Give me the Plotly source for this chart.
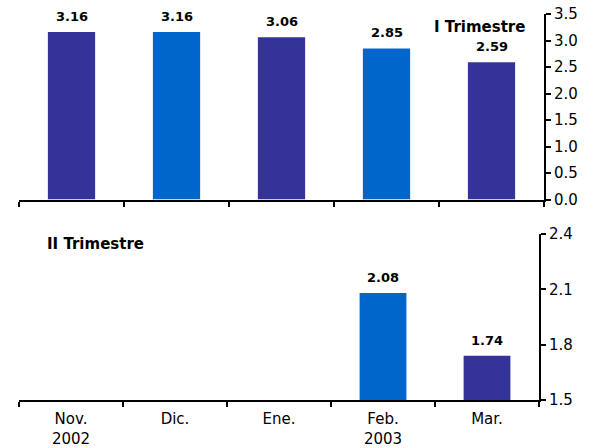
import plotly.graph_objects as go

months = ["Nov.<br>2002", "Dic.", "Ene.", "Feb.<br>2003", "Mar."]
q1_values = [3.16, 3.16, 3.06, 2.85, 2.59]
q2_values = [None, None, None, 2.08, 1.74]
bar_colors = ["#333399", "#0066CC", "#333399", "#0066CC", "#333399"]
q1_ticks = [0.0, 0.5, 1.0, 1.5, 2.0, 2.5, 3.0, 3.5]
q2_ticks = [1.5, 1.8, 2.1, 2.4]

FONT = "DejaVu Sans"

fig = go.Figure()
fig.add_trace(go.Bar(x=months, y=q1_values, marker=dict(color=bar_colors, line=dict(width=0)),
                     width=0.45, xaxis="x", yaxis="y", showlegend=False, hoverinfo="skip"))
fig.add_trace(go.Bar(x=months, y=q2_values, marker=dict(color=bar_colors, line=dict(width=0)),
                     width=0.45, xaxis="x2", yaxis="y2", showlegend=False, hoverinfo="skip"))

annotations = []
for m, v in zip(months, q1_values):
    annotations.append(dict(x=m, y=v, xref="x", yref="y", text=f"<b>{v:.2f}</b>", showarrow=False,
                            yanchor="bottom", yshift=6, font=dict(family=FONT, size=13, color="black")))
for m, v in zip(months, q2_values):
    if v is not None:
        annotations.append(dict(x=m, y=v, xref="x2", yref="y2", text=f"<b>{v:.2f}</b>", showarrow=False,
                                yanchor="bottom", yshift=6, font=dict(family=FONT, size=13, color="black")))
annotations.append(dict(x=0.9676, y=0.966, xref="paper", yref="paper", text="<b>I Trimestre</b>",
                        showarrow=False, xanchor="right", yanchor="middle",
                        font=dict(family=FONT, size=15, color="black")))
annotations.append(dict(x=0.0495, y=0.404, xref="paper", yref="paper", text="<b>II Trimestre</b>",
                        showarrow=False, xanchor="left", yanchor="middle",
                        font=dict(family=FONT, size=15, color="black")))

axis_common = dict(showgrid=False, zeroline=False, showline=True, linecolor="black", linewidth=2,
                   ticks="outside", ticklen=5, tickwidth=2, tickcolor="black", automargin=False)

fig.update_layout(
    width=602, height=448,
    margin=dict(l=19, r=58, t=14, b=48, autoexpand=False),
    paper_bgcolor="white", plot_bgcolor="white",
    font=dict(family=FONT, size=15, color="black"),
    bargap=0.55,
    annotations=annotations,
    xaxis=dict(domain=[0, 1], anchor="y", type="category", tickson="boundaries",
               showticklabels=False, range=[-0.5, 4.5], **axis_common),
    yaxis=dict(domain=[0.5194, 1], anchor="x", side="right", range=[0, 3.5],
               tickvals=q1_ticks, tickformat=".1f", **axis_common),
    xaxis2=dict(domain=[0, 0.9905], anchor="y2", type="category", tickson="boundaries",
                range=[-0.5, 4.5], ticklabelstandoff=4, **axis_common),
    yaxis2=dict(domain=[0, 0.430], anchor="x2", side="right", range=[1.5, 2.4],
                tickvals=q2_ticks, tickformat=".1f", **axis_common),
)

fig.write_html("out.html")
